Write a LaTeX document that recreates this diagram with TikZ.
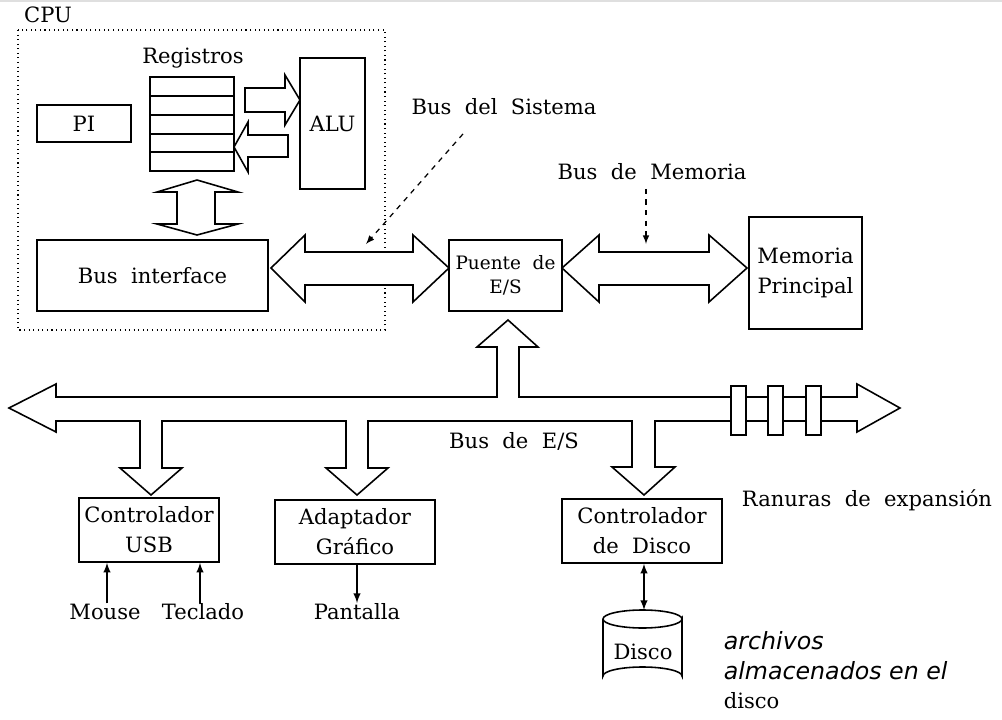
\documentclass[tikz,border=0pt]{standalone}
\usepackage{fontspec}
\setmainfont{DejaVu Serif}
\newfontfamily\notasans{DejaVu Sans}
\usetikzlibrary{arrows, calc, positioning}

\tikzset{
    box/.style={draw, align=center, inner sep=0pt},
    rotulo/.style={inner sep=0pt, align=center},
    bloque/.style={draw, fill=white, line join=miter}
}

\begin{document}
\begin{tikzpicture}[x=0.02cm, y=-0.02cm, line width=0.9pt, >=latex,
                    every node/.style={font=\fontsize{12}{17}\selectfont}]
                    \useasboundingbox (0,0) rectangle (1002,720);
                    \draw[gray!25, line width=1.2pt] (0,1) -- (1002,1);

                    \node[rotulo] (cpu) at (48, 15) {CPU};
                    \draw[dotted, line width=0.6pt] (18, 30) rectangle (385, 330);

                    \node[rotulo] (regtit) at (193, 58) {Registros};
                    \node[box, minimum width=1.68cm, minimum height=1.88cm] (regs) at (192, 124) {};
                    \foreach \y in {96, 115, 134, 152} {
                        \draw (150, \y) -- (234, \y);
                    }
                    \node[box, minimum width=1.88cm, minimum height=0.74cm] (pi) at (84, 123.5) {PI};
                    \node[box, minimum width=1.3cm, minimum height=2.62cm] (alu) at (332.5, 123.5) {ALU};
                    \node[box, minimum width=4.62cm, minimum height=1.42cm] (busif) at (152.5, 275.5) {Bus\ \ interface};
                    \node[box, minimum width=2.26cm, minimum height=1.42cm, font=\fontsize{10.5}{14}\selectfont] (puente) at (505.5, 275.5) {Puente\ \ de\\E/S};
                    \node[box, minimum width=2.26cm, minimum height=2.24cm] (mem) at (805.5, 273) {Memoria\\Principal};

                    \draw[bloque]
                    (245, 88) -- (285, 88) -- (285, 75) -- (300, 100) -- (285, 125) -- (285, 112) -- (245, 112) -- cycle;
                    \draw[bloque]
                    (288, 135) -- (248, 135) -- (248, 122) -- (234, 147) -- (248, 172) -- (248, 157) -- (288, 157) -- cycle;
                    \draw[bloque]
                    (177, 192) -- (157, 192) -- (197, 180) -- (238, 192) -- (215, 192) -- (215, 224)
                    -- (238, 224) -- (197, 235) -- (157, 224) -- (177, 224) -- cycle;
                    \draw[bloque]
                    (271, 268) -- (305, 235) -- (305, 252) -- (413, 252) -- (413, 235) -- (449, 268)
                    -- (413, 302) -- (413, 285) -- (305, 285) -- (305, 302) -- cycle;
                    \draw[bloque]
                    (562, 268) -- (599, 235) -- (599, 252) -- (709, 252) -- (709, 235) -- (747, 268)
                    -- (709, 302) -- (709, 285) -- (599, 285) -- (599, 302) -- cycle;

                    \node[rotulo] (bsis) at (504, 107) {Bus\ \ del\ \ Sistema};
                    \node[rotulo] (bmem) at (652, 172) {Bus\ \ de\ \ Memoria};
                    \coordinate (sisfin) at (366, 244);
                    \coordinate (memfin) at (646, 244);
                    \draw[dashed, ->, line width=0.7pt] ([xshift=-0.82cm, yshift=-0.36cm]bsis.south) -- (sisfin);
                    \draw[dashed, ->, line width=0.7pt] ([yshift=-0.16cm]memfin |- bmem.south) -- (memfin);

                    \draw[bloque]
                    (9, 408) -- (56, 384) -- (56, 397) -- (497, 397) -- (497, 347) -- (477, 347) -- (508, 320)
                    -- (538, 347) -- (519, 347) -- (519, 397) -- (857, 397) -- (857, 384) -- (900, 408)
                    -- (857, 432) -- (857, 421) -- (655, 421) -- (655, 467) -- (675, 467) -- (644, 495)
                    -- (612, 467) -- (632, 467) -- (632, 421) -- (368, 421) -- (368, 468) -- (388, 468)
                    -- (357, 495) -- (326, 468) -- (346, 468) -- (346, 421) -- (162, 421) -- (162, 468)
                    -- (182, 468) -- (151, 495) -- (120, 468) -- (140, 468) -- (140, 421) -- (56, 421)
                    -- (56, 432) -- cycle;
                    \foreach \x in {731, 768, 806} {
                        \draw[fill=white] (\x, 386) rectangle (\x + 15, 435);
                    }
                    \node[rotulo] (bes) at (514, 441) {Bus\ \ de\ \ E/S};
                    \node[rotulo] (ranuras) at (867, 500) {Ranuras\ \ de\ \ expansión};

                    \node[box, minimum width=2.8cm, minimum height=1.28cm] (usb) at (149, 530) {Controlador\\USB};
                    \node[box, minimum width=3.2cm, minimum height=1.28cm] (graf) at (355, 532) {Adaptador\\Gráfico};
                    \node[box, minimum width=3.2cm, minimum height=1.28cm] (dctrl) at (642, 531) {Controlador\\de\ \ Disco};

                    \node[rotulo] (mouse) at (105, 612) {Mouse};
                    \node[rotulo] (teclado) at (203, 612) {Teclado};
                    \node[rotulo] (pantalla) at (357, 612) {Pantalla};
                    \draw[->] ([xshift=0.04cm]mouse.north) -- ([xshift=0.04cm]mouse.north |- usb.south);
                    \draw[->] ([xshift=-0.06cm]teclado.north) -- ([xshift=-0.06cm]teclado.north |- usb.south);
                    \draw[->] (graf.south -| pantalla) -- (pantalla.north);

                    \draw (603, 619) -- (603, 676) arc[start angle=180, end angle=360, x radius=39.5, y radius=9]
                    -- (682, 619) arc[start angle=0, end angle=180, x radius=39.5, y radius=9]
                    arc[start angle=180, end angle=360, x radius=39.5, y radius=9];
                    \node[rotulo] (disco) at (643, 652) {Disco};
                    \coordinate (discotope) at (644, 610);
                    \draw[<->] (dctrl.south -| discotope) -- (discotope);

                    \node[rotulo, anchor=west, align=left, font=\notasans\itshape\fontsize{13.5}{17}\selectfont] (archivos) at (723, 656) {archivos\\almacenados en el};
                    \node[rotulo, anchor=west] (discotxt) at (723, 701) {disco};
                \end{tikzpicture}
\end{document}
